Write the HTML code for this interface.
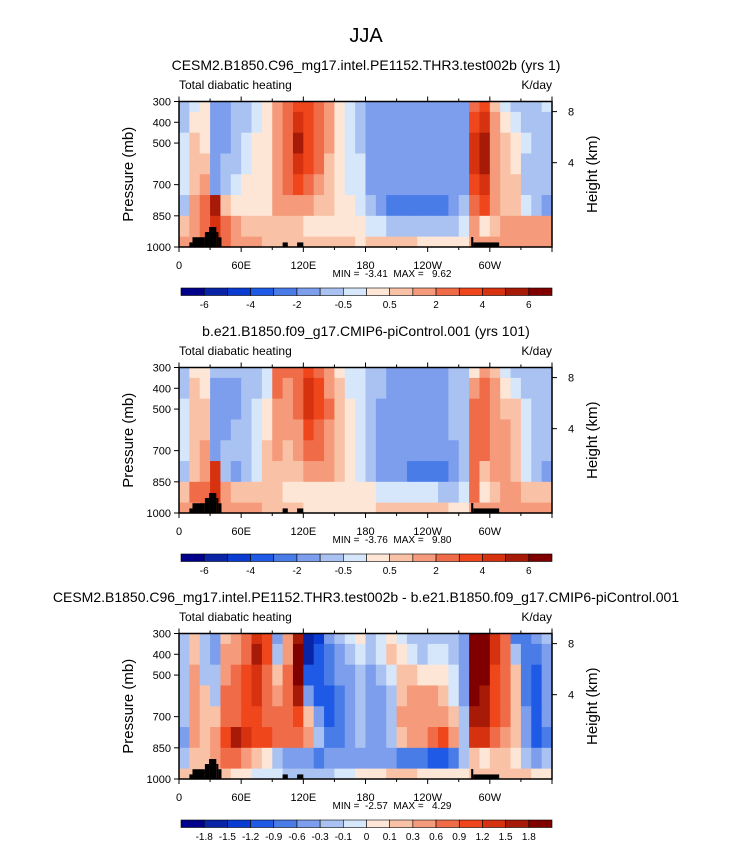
<!DOCTYPE html>
<html><head><meta charset="utf-8"><style>
html,body{margin:0;padding:0;background:#fff;}
svg text{font-family:"Liberation Sans",Arial,sans-serif;fill:#000;white-space:pre;}
</style></head><body>
<svg id="fig" width="732" height="842" viewBox="0 0 732 842" xmlns="http://www.w3.org/2000/svg">
<text x="366" y="42" font-size="20" text-anchor="middle">JJA</text>
</svg>
<script>
// ---- data ----
const lons = [5,15,25,35,45,55,65,75,85,95,105,115,125,135,145,155,165,175,185,195,205,215,225,235,245,255,265,275,285,295,305,315,325,335,345,355];
const levels = [300,400,500,600,700,800,900,1000];
const xTickLabels = ["0","60E","120E","180","120W","60W"];
const xTickLons = [0,60,120,180,240,300];
const pTicks = [300,400,500,700,850,1000];
const hTicks = [8,4];
const absBounds = [-6,-5,-4,-3,-2,-1,-0.5,0,0.5,1,2,3,4,5,6];
const absLabels = ["-6","-4","-2","-0.5","0.5","2","4","6"];
const diffBounds = [-1.8,-1.5,-1.2,-0.9,-0.6,-0.3,-0.1,0,0.1,0.3,0.6,0.9,1.2,1.5,1.8];
const diffLabels = ["-1.8","-1.5","-1.2","-0.9","-0.6","-0.3","-0.1","0","0.1","0.3","0.6","0.9","1.2","1.5","1.8"];
// terrain blocks: [lonStart, lonEnd, topPressure]
const terrain = [[10,13,978],[13,25,953],[25,29,928],[29,36,904],[36,38,928],[38,41,953],[100,105,978],[114,120,978],[282,284,952],[284,309,978]];
const data1 = [
[-0.7,-0.3,0.2,-1.5,-1.5,-1,-0.7,-0.3,0.3,1.5,2,3.5,3,2,1,0.3,-0.3,-0.7,-1.5,-1.5,-1.5,-1.5,-1.5,-1.5,-1.5,-1.5,-1.5,-1.2,2.5,3,0.7,-0.3,-0.7,-0.7,-0.7,-0.5],
[-0.7,0.3,0.2,-1.5,-1.5,-1,-0.7,-0.3,0.3,1.5,2.5,4.5,3.5,2.5,1,0.3,-0.2,-0.7,-1.5,-1.5,-1.5,-1.5,-1.5,-1.5,-1.5,-1.5,-1.5,-1.2,3.5,4,1,0.3,-0.5,-0.7,-1,-0.7],
[-0.5,0.5,0.4,-2,-1.5,-1,-0.5,0.2,0.3,1.5,2.5,5,3.5,2.5,1,0.3,-0.2,-0.7,-1.5,-1.7,-1.5,-1.5,-1.5,-1.5,-1.5,-1.5,-1.5,-1.2,4,5.5,1.2,0.7,0.3,-0.5,-1,-0.7],
[-0.3,0.7,0.5,-2,-1,-0.7,-0.3,0.3,0.3,1.5,2.5,4,3,2,0.7,0.3,-0.2,-0.5,-1.5,-1.7,-1.7,-1.5,-1.5,-1.5,-1.5,-1.5,-1.5,-1.2,4,5.5,1.2,0.7,0.3,-0.7,-1,-0.7],
[-0.3,0.8,1.2,-1.5,-0.7,-0.3,0.3,0.3,0.3,1.5,2,3,2,1.2,0.7,0.3,-0.2,-0.5,-1.5,-1.5,-1.5,-2,-2,-2,-2,-1.7,-1.5,-1.2,3.5,4.5,1.2,0.8,0.5,-0.7,-1,-0.7],
[-1,1,2,5,0.5,0.3,0.3,0.3,0.3,1.2,1.5,1.5,1,0.7,0.5,0.3,0,-0.3,-1,-1.5,-2.5,-2.5,-2.5,-2.5,-2.5,-2.5,-2,-1,2,3,1,0.7,0.5,-0.5,-1,-1.5],
[0.5,1.5,2,4,2,1,0.7,0.5,0.5,0.7,0.7,0.5,0.4,0.4,0.3,0.3,0.3,0.2,-0.3,-0.5,-0.7,-0.7,-0.7,-0.7,-0.7,-0.7,-0.7,-0.5,1,0.3,0.7,1,1.5,1.5,1.5,1.2],
[1.5,1.5,2,3,2,1.5,1,1,0.7,0.7,0.7,0.7,0.5,0.5,0.5,0.5,0.5,0.3,0.5,0.7,0.7,0.7,0.7,0.3,0.3,0.3,0.3,0.3,1,1,1.5,1.5,1.5,1.5,1.5,1.5]];
const data2 = [
[-0.7,0.3,0.3,-1,-1,-1,-1,-0.7,-0.3,2.5,2,2,3,2.5,1,0.3,-0.3,-0.5,-0.7,-1,-1.5,-1.5,-1.5,-1.5,-1.5,-1.2,-1,-0.7,0.3,1,0.5,-0.5,-0.7,-1,-1,-1],
[-0.7,0.5,0.3,-1.5,-1.5,-1.5,-1,-0.7,-0.3,2,1.5,2,4.5,3,1.5,0.5,-0.3,-0.5,-0.7,-1,-1.5,-1.5,-1.5,-1.5,-1.5,-1.2,-1,-0.7,1.5,2,1,0.3,-0.3,-0.7,-1,-1],
[-0.5,0.7,0.5,-2,-1.5,-1.5,-1,-0.5,0,1.5,1.2,2,4,3,2,0.7,0,-0.5,-0.7,-1.2,-1.5,-1.5,-1.5,-1.5,-1.5,-1.2,-1,-0.7,2,2.5,1.2,0.7,0.5,-0.5,-1,-1],
[-0.5,0.7,0.7,-2,-1.5,-1,-0.7,-0.3,0.3,1.2,1,1.5,3,2.5,1.5,0.7,0.2,-0.3,-0.7,-1.2,-1.5,-1.5,-2,-2,-1.5,-1.2,-1,-0.7,2.5,2.5,1.5,1,0.7,-0.3,-1,-1],
[-0.5,0.5,1,-1.5,-1,-1,-0.7,-0.3,0.5,1,0.7,1.2,2,2,1.2,0.7,0.2,-0.3,-0.7,-1.2,-1.5,-1.5,-2,-2,-2,-2,-1.5,-1,2.5,2,1.5,1,0.7,-0.3,-0.7,-1],
[-1,0.7,1.5,4,-0.7,-1.5,-1,-0.5,0.5,0.7,0.5,0.7,1,1,1,0.5,0.2,-0.3,-0.7,-1.2,-1.5,-2,-2.5,-2.5,-3,-3,-2,-1,2,0.5,1.2,1,0.7,-0.3,-1,-1.2],
[0.5,2,2,4,1,0.7,0.5,0.5,0.5,0.5,0.3,0.3,0.3,0.3,0.3,0.3,0.3,0.3,0,-0.3,-0.3,-0.3,-0.3,-0.5,-0.5,-0.7,-0.7,-0.5,2,0.3,0.7,1,1,0.7,0.7,0.7],
[1.5,1.5,2,2,1.5,1,1,1,0.7,0.5,0.5,0.5,0.3,0.3,0.3,0.3,0.3,0.3,0.3,0.5,0.7,0.7,0.7,0.5,0.5,0.5,0.3,0.3,1,1,1,1,1,1,1,1]];
const data3 = [
[-0.2,0.1,-0.3,-0.6,0.1,0.3,0.6,1.2,0.9,-0.6,0.3,1.5,-1.8,-1.5,-0.6,-0.3,-0.1,0.05,-0.3,-0.1,0.05,-0.1,-0.3,-0.3,-0.3,-0.3,-0.3,-0.6,1.8,1.8,1.2,0.6,-0.9,-0.9,-0.6,-0.3],
[-0.3,0.1,-0.3,-0.6,0.3,0.3,0.6,1.5,0.9,-0.3,0.3,1.8,-1.8,-1.2,-0.9,-0.6,-0.3,-0.1,-0.3,-0.1,0.1,0.05,-0.1,-0.3,-0.1,-0.1,-0.3,-0.6,1.8,1.8,1.2,0.6,-0.3,-0.9,-0.9,-0.6],
[-0.3,0.3,-0.3,-0.3,0.3,0.6,0.9,1.2,0.6,0.1,0.6,1.8,-1.2,-1.2,-0.9,-0.6,-0.6,-0.3,-0.6,-0.3,-0.1,0.1,0.1,0.05,0.05,0.05,-0.1,-0.6,1.8,1.8,0.9,0.6,0.1,-0.9,-1.2,-0.6],
[-0.3,0.3,0.1,-0.3,0.6,0.6,0.9,1.2,0.6,0.3,0.6,1.5,-0.6,-1.2,-1.2,-0.9,-0.6,-0.3,-0.6,-0.6,-0.3,0.1,0.3,0.3,0.3,0.1,-0.1,-0.6,1.8,1.5,0.9,0.6,0.1,-0.9,-1.2,-0.6],
[-0.3,0.3,0.1,0.1,0.6,0.6,0.9,0.9,0.6,0.6,0.6,0.9,0.1,-0.6,-1.2,-0.9,-0.6,-0.3,-0.6,-0.6,-0.3,0.3,0.3,0.3,0.3,0.3,0.1,-0.3,1.5,1.5,0.9,0.6,0.1,-0.6,-1.2,-0.6],
[-0.6,0.3,0.1,0.3,0.9,1.5,1.2,0.9,0.9,0.6,0.6,0.6,0.3,-0.3,-0.9,-0.9,-0.6,-0.3,-0.6,-0.6,-0.3,0.1,0.3,0.3,0.6,0.9,0.3,-0.3,1.2,1.2,0.6,0.3,0.1,-0.6,-1.2,-0.9],
[-0.3,0.1,0.1,0.3,0.6,0.6,0.3,0.1,0.05,-0.3,-0.6,-0.6,-0.6,-0.9,-0.6,-0.6,-0.6,-0.6,-0.6,-0.6,-0.6,-0.9,-0.9,-0.9,-1.2,-1.2,-0.9,-0.3,0.1,0.05,0.1,0.1,0.05,-0.3,-0.6,-0.3],
[0.1,0.1,0.1,0.1,0.1,0.05,0.05,-0.1,-0.1,-0.1,-0.3,-0.3,-0.3,-0.3,-0.3,-0.1,-0.1,0.05,0.05,0.05,0.1,0.1,0.1,0.05,0.05,0.05,0.05,0.05,0.1,0.1,0.1,0.1,0.1,0.1,0.05,0.05]];
const palette = ["#00008a","#0a24a8","#0a3cd2","#1e5ae6","#4a7ce8","#7c9eec","#a9c2f2","#d6e6fb","#fde6d6","#f9c2a6","#f59a7a","#f06c48","#f0461c","#d63210","#a81a08","#800000"];

// ---- drawing ----
const NS = "http://www.w3.org/2000/svg";
const svg = document.getElementById("fig");
function mk(tag, attrs, parent){const e=document.createElementNS(NS,tag);for(const k in attrs)e.setAttribute(k,attrs[k]);(parent||svg).appendChild(e);return e;}
const X0=179, X1=552;
function colorIdx(v,b){let i=0;while(i<b.length&&v>=b[i])i++;return i;}

const panels=[
 {dy:0,title:"CESM2.B1850.C96_mg17.intel.PE1152.THR3.test002b (yrs 1)",data:data1,bounds:absBounds,labels:absLabels,labelEvery:2,mm:"MIN =  -3.41  MAX =   9.62",name:"test-panel"},
 {dy:266,title:"b.e21.B1850.f09_g17.CMIP6-piControl.001 (yrs 101)",data:data2,bounds:absBounds,labels:absLabels,labelEvery:2,mm:"MIN =  -3.76  MAX =   9.80",name:"control-panel"},
 {dy:532,title:"CESM2.B1850.C96_mg17.intel.PE1152.THR3.test002b - b.e21.B1850.f09_g17.CMIP6-piControl.001",data:data3,bounds:diffBounds,labels:diffLabels,labelEvery:1,mm:"MIN =  -2.57  MAX =   4.29",name:"diff-panel"}];

panels.forEach(P=>{
 const Y0=101.5+P.dy, Y1=247+P.dy;
 const xs=lon=>X0+(lon/360)*(X1-X0);
 const ys=p=>Y0+((p-300)/700)*(Y1-Y0);
 const g=mk("g",{});
 
 
 const t=mk("text",{x:366,y:70+P.dy,"font-size":14,"text-anchor":"middle"},g);t.textContent=P.title;
 
 
 const l=mk("text",{x:X0,y:89+P.dy,"font-size":12},g);l.textContent="Total diabatic heating";
 
 
 const u=mk("text",{x:X1,y:89+P.dy,"font-size":12,"text-anchor":"end"},g);u.textContent="K/day";
 
 
 const dlon=10;
 P.data.forEach((row,j)=>{
  const p=levels[j];
  const pa=Math.max(300,p-50), pb=Math.min(1000,p+50);
  row.forEach((v,i)=>{
   const r=mk("rect",{x:xs(lons[i]-dlon/2),y:ys(pa),width:xs(lons[i]+dlon/2)-xs(lons[i]-dlon/2)+0.6,height:ys(pb)-ys(pa)+0.6,fill:palette[colorIdx(v,P.bounds)]},g);
   
   
  });
 });
 terrain.forEach(tb=>{
  const r=mk("rect",{x:xs(tb[0]),y:ys(tb[2]),width:xs(tb[1])-xs(tb[0]),height:Y1-ys(tb[2]),fill:"#000"},g);
  
  
 });
 const fr=mk("rect",{x:X0,y:Y0,width:X1-X0,height:Y1-Y0,fill:"none",stroke:"#000","stroke-width":1.5},g);
 
 
 for(let lon=0;lon<=360;lon+=30){
  const maj=lon%60===0, len=maj?5:3, x=xs(lon);
  mk("line",{x1:x,x2:x,y1:Y1,y2:Y1+len,stroke:"#000","stroke-width":1},g);
  mk("line",{x1:x,x2:x,y1:Y0,y2:Y0-len,stroke:"#000","stroke-width":1},g);
 }
 xTickLabels.forEach((s,i)=>{
  const tx=mk("text",{x:xs(xTickLons[i]),y:Y1+22,"font-size":11,"text-anchor":"middle"},g);tx.textContent=s;
  
  
 });
 const mm=mk("text",{x:392,y:Y1+30,"font-size":10,"text-anchor":"middle"},g);mm.textContent=P.mm;
 
 
 pTicks.forEach(p=>{
  const y=ys(p);
  mk("line",{x1:X0-5,x2:X0,y1:y,y2:y,stroke:"#000","stroke-width":1},g);
  const ty=mk("text",{x:X0-8,y:y+4,"font-size":11,"text-anchor":"end"},g);ty.textContent=p;
  
  
 });
 hTicks.forEach(z=>{
  const y=ys(1013*Math.exp(-z/7.5));
  mk("line",{x1:X1,x2:X1+5,y1:y,y2:y,stroke:"#000","stroke-width":1},g);
  const th=mk("text",{x:X1+16,y:y+4,"font-size":11},g);th.textContent=z;
  
  
 });
 const yl=mk("text",{x:0,y:0,"font-size":15,"text-anchor":"middle",transform:`translate(133,${(Y0+Y1)/2}) rotate(-90)`},g);yl.textContent="Pressure (mb)";
 
 
 const hl=mk("text",{x:0,y:0,"font-size":15,"text-anchor":"middle",transform:`translate(597,${(Y0+Y1)/2}) rotate(-90)`},g);hl.textContent="Height (km)";
 
 
 const cb=mk("g",{},g);
 
 
 const CX0=181, CX1=552, CY=288+P.dy, CH=7.5, n=palette.length, w=(CX1-CX0)/n;
 palette.forEach((c,i)=>{
  const r=mk("rect",{x:CX0+i*w,y:CY,width:w,height:CH,fill:c,stroke:"#000","stroke-width":0.6},cb);
  
  
 });
 P.bounds.forEach((b,i)=>{
  if(i%P.labelEvery!==0)return;
  const lab=P.labels[i/P.labelEvery];
  const tl=mk("text",{x:CX0+(i+1)*w,y:CY+20,"font-size":10,"text-anchor":"middle"},cb);tl.textContent=lab;
  
  
 });
});
</script>
</body></html>
